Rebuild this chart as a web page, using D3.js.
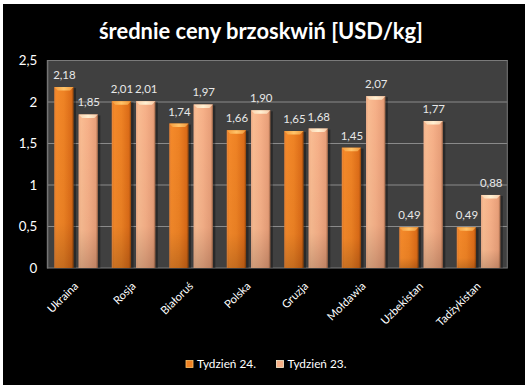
<!DOCTYPE html>
<html><head><meta charset="utf-8">
<script src="https://cdn.jsdelivr.net/npm/d3@7"></script>
<style>
html,body{margin:0;padding:0;background:#fff;}
svg{display:block;}
text{font-family:Lato,"Open Sans",sans-serif;}
</style></head>
<body>
<script>
const categories = ["Ukraina","Rosja","Białoruś","Polska","Gruzja","Mołdawia","Uzbekistan","Tadżykistan"];
const seriesNames = ["Tydzień 24.","Tydzień 23."];
const week24 = [2.18,2.01,1.74,1.66,1.65,1.45,0.49,0.49];
const week23 = [1.85,2.01,1.97,1.90,1.68,2.07,1.77,0.88];
const yTicks = [0,0.5,1,1.5,2,2.5];
const titleText = "średnie ceny brzoskwiń [USD/kg]";

const W=525,H=385;
const svg=d3.select("body").append("svg").attr("width",W).attr("height",H);
const defs=svg.append("defs");

// helper: find font size so that sample text has target width
function fitSize(sample,target,weight){
  const t=svg.append("text").style("font-size","20px").style("font-weight",weight||"normal").text(sample);
  const w=t.node().getComputedTextLength(); t.remove();
  return (20*target/w).toFixed(2)+"px";
}
const fsVal=fitSize("2,18",22.5);
const fsAxis=fitSize("2,5",18.5);
const fsCat=fitSize("Tadżykistan",57);
const fsLeg=fitSize("Tydzień 24.",59);
const fsTitle=fitSize(titleText,324,"bold");

function hGrad(id,stops){
  const g=defs.append("linearGradient").attr("id",id).attr("x1","0").attr("x2","1").attr("y1","0").attr("y2","0");
  stops.forEach(s=>g.append("stop").attr("offset",s[0]).attr("stop-color",s[1]));
}
function vGrad(id,stops){
  const g=defs.append("linearGradient").attr("id",id).attr("x1","0").attr("x2","0").attr("y1","0").attr("y2","1");
  stops.forEach(s=>g.append("stop").attr("offset",s[0]).attr("stop-color",s[1][0]).attr("stop-opacity",s[1][1]));
}
hGrad("g0",[[0,"#e0701a"],[0.12,"#f4892a"],[0.5,"#ee8224"],[0.88,"#dc6c18"],[1,"#b85a12"]]);
hGrad("g1",[[0,"#eea47a"],[0.12,"#f9bc92"],[0.5,"#f6b088"],[0.88,"#e9a07a"],[1,"#cc8660"]]);
hGrad("c0",[[0,"#f59a3a"],[0.5,"#ffc46a"],[1,"#f09638"]]);
hGrad("c1",[[0,"#fbd2ae"],[0.5,"#fff0d2"],[1,"#f8ccaa"]]);
vGrad("shade",[[0,["#000",0]],[0.75,["#000",0.03]],[1,["#000",0.18]]]);

// background
svg.append("rect").attr("x",3).attr("y",4).attr("width",W-3).attr("height",H-4).attr("fill","#000");

const plot={l:47.3,r:507.3,t:60.5,b:268};
const x=d3.scaleBand().domain(categories).range([plot.l,plot.r]).paddingInner(0).paddingOuter(0);
const xs=d3.scaleBand().domain([0,1]).range([0,x.bandwidth()]).paddingInner(0.206).paddingOuter(0.286);
const y=d3.scaleLinear().domain([0,2.5]).range([plot.b,plot.t]);

// plot area
svg.append("rect").attr("x",plot.l).attr("y",plot.t).attr("width",plot.r-plot.l).attr("height",plot.b-plot.t)
  .attr("fill","#404040");
// gridlines
svg.append("g").selectAll("line").data(yTicks.filter(d=>d>0)).join("line")
  .attr("x1",plot.l).attr("x2",plot.r).attr("y1",d=>y(d)).attr("y2",d=>y(d))
  .attr("stroke","#8a8a8a").attr("stroke-width",1);
svg.append("rect").attr("x",plot.l).attr("y",plot.t).attr("width",plot.r-plot.l).attr("height",plot.b-plot.t)
  .attr("fill","none").attr("stroke","#7a7a7a").attr("stroke-width",1);

// y axis
const yAxis=d3.axisLeft(y).tickValues(yTicks).tickSize(0).tickPadding(10)
  .tickFormat(d=>String(d).replace(".",","));
const ya=svg.append("g").attr("transform",`translate(${plot.l},0)`).call(yAxis);
ya.select(".domain").attr("stroke","#7a7a7a");
ya.selectAll("text").attr("fill","#ffffff").style("font-size",fsAxis).style("font-family","Lato,sans-serif");

// bars
const data=[];
categories.forEach((c,i)=>{data.push({c,s:0,v:week24[i]});data.push({c,s:1,v:week23[i]});});
const bars=svg.append("g");
const bw=xs.bandwidth();
data.forEach(d=>{
  const x0=x(d.c)+xs(d.s), y0=y(d.v), h=y(0)-y0;
  const g=bars.append("g");
  g.append("rect").attr("x",x0+1.5).attr("y",y0+1).attr("width",bw+1).attr("height",h-1)
    .attr("fill","#000").attr("opacity",0.35);
  g.append("rect").attr("x",x0).attr("y",y0).attr("width",bw).attr("height",h).attr("fill",`url(#g${d.s})`);
  g.append("rect").attr("x",x0).attr("y",y0).attr("width",bw).attr("height",h).attr("fill","url(#shade)");
  const bv=3.5;
  g.append("path").attr("d",`M${x0},${y0}L${x0+bw},${y0}L${x0+bw-bv},${y0+bv}L${x0+bv},${y0+bv}Z`)
    .attr("fill",`url(#c${d.s})`);
  g.append("path").attr("d",`M${x0},${y0}L${x0+1.2},${y0+1.2}L${x0+1.2},${y0+h}L${x0},${y0+h}Z`)
    .attr("fill","#fff").attr("opacity",0.12);
  g.append("path").attr("d",`M${x0+bw},${y0}L${x0+bw-1.2},${y0+1.2}L${x0+bw-1.2},${y0+h}L${x0+bw},${y0+h}Z`)
    .attr("fill","#000").attr("opacity",0.15);
  svg.append("text").attr("x",x0+bw/2+0.5).attr("y",y0-8).attr("text-anchor","middle")
    .attr("fill","#e8e8e8").style("font-size",fsVal).text(d3.format(".2f")(d.v).replace(".",","));
});

// x labels
svg.append("g").selectAll("text").data(categories).join("text")
  .attr("transform",d=>`translate(${x(d)+x.bandwidth()/2},284) rotate(-45)`)
  .attr("text-anchor","end").attr("dy","0.35em")
  .attr("fill","#ffffff").style("font-size",fsCat).text(d=>d);

// title
svg.append("text").attr("x",261).attr("y",39).attr("text-anchor","middle")
  .attr("fill","#ffffff").style("font-weight","bold").style("font-size",fsTitle).text(titleText);

// legend
const leg=svg.append("g");
const legItems=[{x:186,s:0},{x:276.5,s:1}];
legItems.forEach(li=>{
  leg.append("rect").attr("x",li.x).attr("y",360.5).attr("width",7).attr("height",7)
    .attr("fill",li.s?"#f6b088":"#ee8224").attr("stroke",li.s?"#fff0d2":"#ffc46a").attr("stroke-width",0.8);
  leg.append("text").attr("x",li.x+11).attr("y",368).attr("fill","#ffffff").style("font-size",fsLeg).text(seriesNames[li.s]);
});
</script>
</body></html>
